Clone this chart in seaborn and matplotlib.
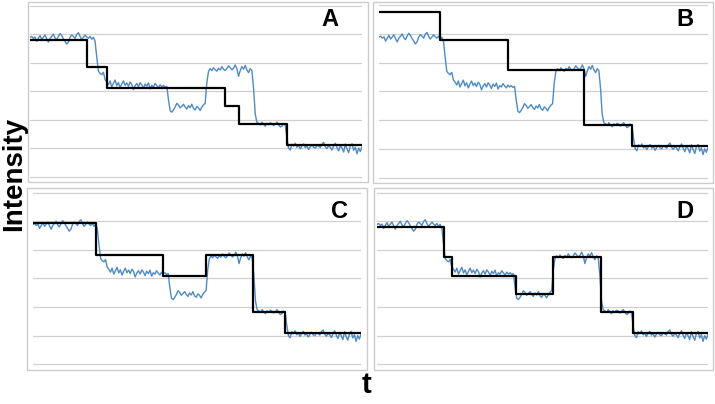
import numpy as np
import matplotlib.pyplot as plt
import seaborn as sns
from matplotlib.patches import Rectangle

sns.set_style("white")
plt.rcParams['font.family'] = ['Liberation Sans', 'DejaVu Sans']

# measured intensity trace (same trace in every panel)
signal = [
    4.89, 4.92, 4.85, 4.90, 4.75, 4.85, 4.95, 4.82, 4.89, 4.97,
    4.84, 4.72, 4.85, 4.92, 5.00, 4.87, 4.80, 4.92, 5.02, 4.95,
    4.84, 4.75, 4.65, 4.72, 4.89, 4.97, 4.92, 4.85, 4.99, 5.05,
    4.92, 4.82, 4.89, 4.97, 4.90, 4.85, 4.92, 4.82, 4.89, 4.75,
    4.20, 3.70, 3.62, 3.58, 3.66, 3.40,
    3.32, 3.22, 3.36, 3.15, 3.27, 3.39, 3.19, 3.30, 3.12, 3.25,
    3.36, 3.20, 3.29, 3.17, 3.32, 3.24, 3.05, 3.19, 3.27, 3.15,
    3.30, 3.22, 3.10, 3.25, 3.17, 3.29, 3.08, 3.20, 3.15, 3.27,
    3.19, 3.12, 3.22, 3.15, 3.20, 3.14, 3.17,
    2.70,
    2.31, 2.26, 2.34, 2.44, 2.57, 2.51, 2.41, 2.47, 2.54, 2.44,
    2.37, 2.49, 2.42, 2.54, 2.39, 2.34, 2.46, 2.41, 2.32, 2.44,
    2.52, 2.57,
    3.30,
    3.69, 3.79, 3.72, 3.82, 3.75, 3.70, 3.80, 3.74, 3.86, 3.77,
    3.72, 3.79, 3.89, 3.82, 3.75, 3.80, 3.92, 3.79, 3.52, 3.72,
    3.86, 3.77, 3.90, 3.75, 3.65, 3.79, 3.72,
    3.10, 2.20, 1.90,
    1.87, 1.81, 1.91, 1.84, 1.77, 1.87, 1.82, 1.89, 1.86, 1.79,
    1.84, 1.91, 1.82, 1.74, 1.77, 1.86, 1.81,
    1.35,
    1.00, 0.93, 1.14, 1.07, 1.17, 1.03, 1.10, 0.97, 1.08, 1.15,
    1.02, 1.07, 0.95, 1.05, 1.12, 1.03, 1.00, 1.10, 1.07, 1.02,
    1.14, 1.20, 1.05, 0.98, 1.08, 1.03, 0.93, 1.07, 1.17, 1.02,
    0.90, 1.10, 1.00, 0.86, 1.14, 0.97, 0.84, 1.07, 1.15, 0.92,
    1.03, 0.80, 1.00, 0.88, 1.05,
]
t = np.arange(len(signal))
t_end = t[-1]

# step fits: change points and levels
steps_A_t = [0, 34, 46, 117, 125, 154, t_end]
steps_A_y = [4.80, 3.84, 3.10, 2.46, 1.84, 1.11, 1.11]
steps_B_t = [0, 37, 78, 124, 153, t_end]
steps_B_y = [5.76, 4.79, 3.75, 1.84, 1.11, 1.11]
steps_C_t = [0, 38, 79, 105, 133.5, 153, t_end]
steps_C_y = [4.92, 3.83, 3.10, 3.83, 1.82, 1.10, 1.10]
steps_D_t = [0, 40, 45, 83.5, 106, 134.5, 154, t_end]
steps_D_y = [4.80, 3.74, 3.10, 2.46, 3.75, 1.82, 1.10, 1.10]

panel_names = ['A', 'B', 'C', 'D']
steps = {'A': (steps_A_t, steps_A_y), 'B': (steps_B_t, steps_B_y),
         'C': (steps_C_t, steps_C_y), 'D': (steps_D_t, steps_D_y)}

W, H = 715, 404
fig = plt.figure(figsize=(W / 100, H / 100), dpi=100)

# layout in pixels
borders = {'A': (28, 2.5, 368, 182), 'B': (373, 2, 713, 183),
           'C': (27, 188, 367, 370), 'D': (374, 188, 713, 370)}
plot_x = {'A': (30, 362), 'B': (379, 708), 'C': (33, 361), 'D': (377, 708)}
ylims = {'A': (-0.19, 6.11), 'B': (-0.19, 6.11), 'C': (-0.2, 6.16), 'D': (-0.2, 6.16)}
letter_pos = {'A': (338, 19.5), 'B': (693, 19), 'C': (348, 211), 'D': (693, 211.5)}

for name in panel_names:
    bx0, by0, bx1, by1 = borders[name]
    px0, px1 = plot_x[name]
    fig.patches.append(Rectangle((bx0 / W, 1 - by1 / H), (bx1 - bx0) / W, (by1 - by0) / H,
                                 transform=fig.transFigure, fill=False,
                                 edgecolor='#cccccc', linewidth=1.0))
    ax = fig.add_axes([px0 / W, 1 - by1 / H, (px1 - px0) / W, (by1 - by0) / H])
    ax.patch.set_alpha(0)

    sns.lineplot(x=t, y=signal, ax=ax, color='#4f8bc5', linewidth=1.0)
    st, sy = steps[name]
    sns.lineplot(x=st, y=sy, ax=ax, color='black', linewidth=1.6,
                 drawstyle='steps-post')

    ax.set_xlim(0, t_end)
    ax.set_ylim(*ylims[name])
    ax.set_yticks(range(7))
    ax.set_xticks([])
    ax.set_yticklabels([])
    ax.tick_params(length=0)
    ax.yaxis.grid(True, color='#d0d0d0', linewidth=0.9)
    ax.set_axisbelow(True)
    for s in ax.spines.values():
        s.set_visible(False)
    ax.set_xlabel('')
    ax.set_ylabel('')

    lx, ly = letter_pos[name]
    fig.text(lx / W, 1 - ly / H, name, ha='right', va='center',
             fontsize=17, fontweight='bold', color='black')

fig.text(14 / W, 1 - 174 / H, 'Intensity', rotation=90, ha='center', va='center',
         fontsize=20, fontweight='bold', color='black')
fig.text(367 / W, 1 - 385 / H, 't', ha='center', va='center',
         fontsize=21, fontweight='bold', color='black')

fig.savefig('out.png', dpi=100)
